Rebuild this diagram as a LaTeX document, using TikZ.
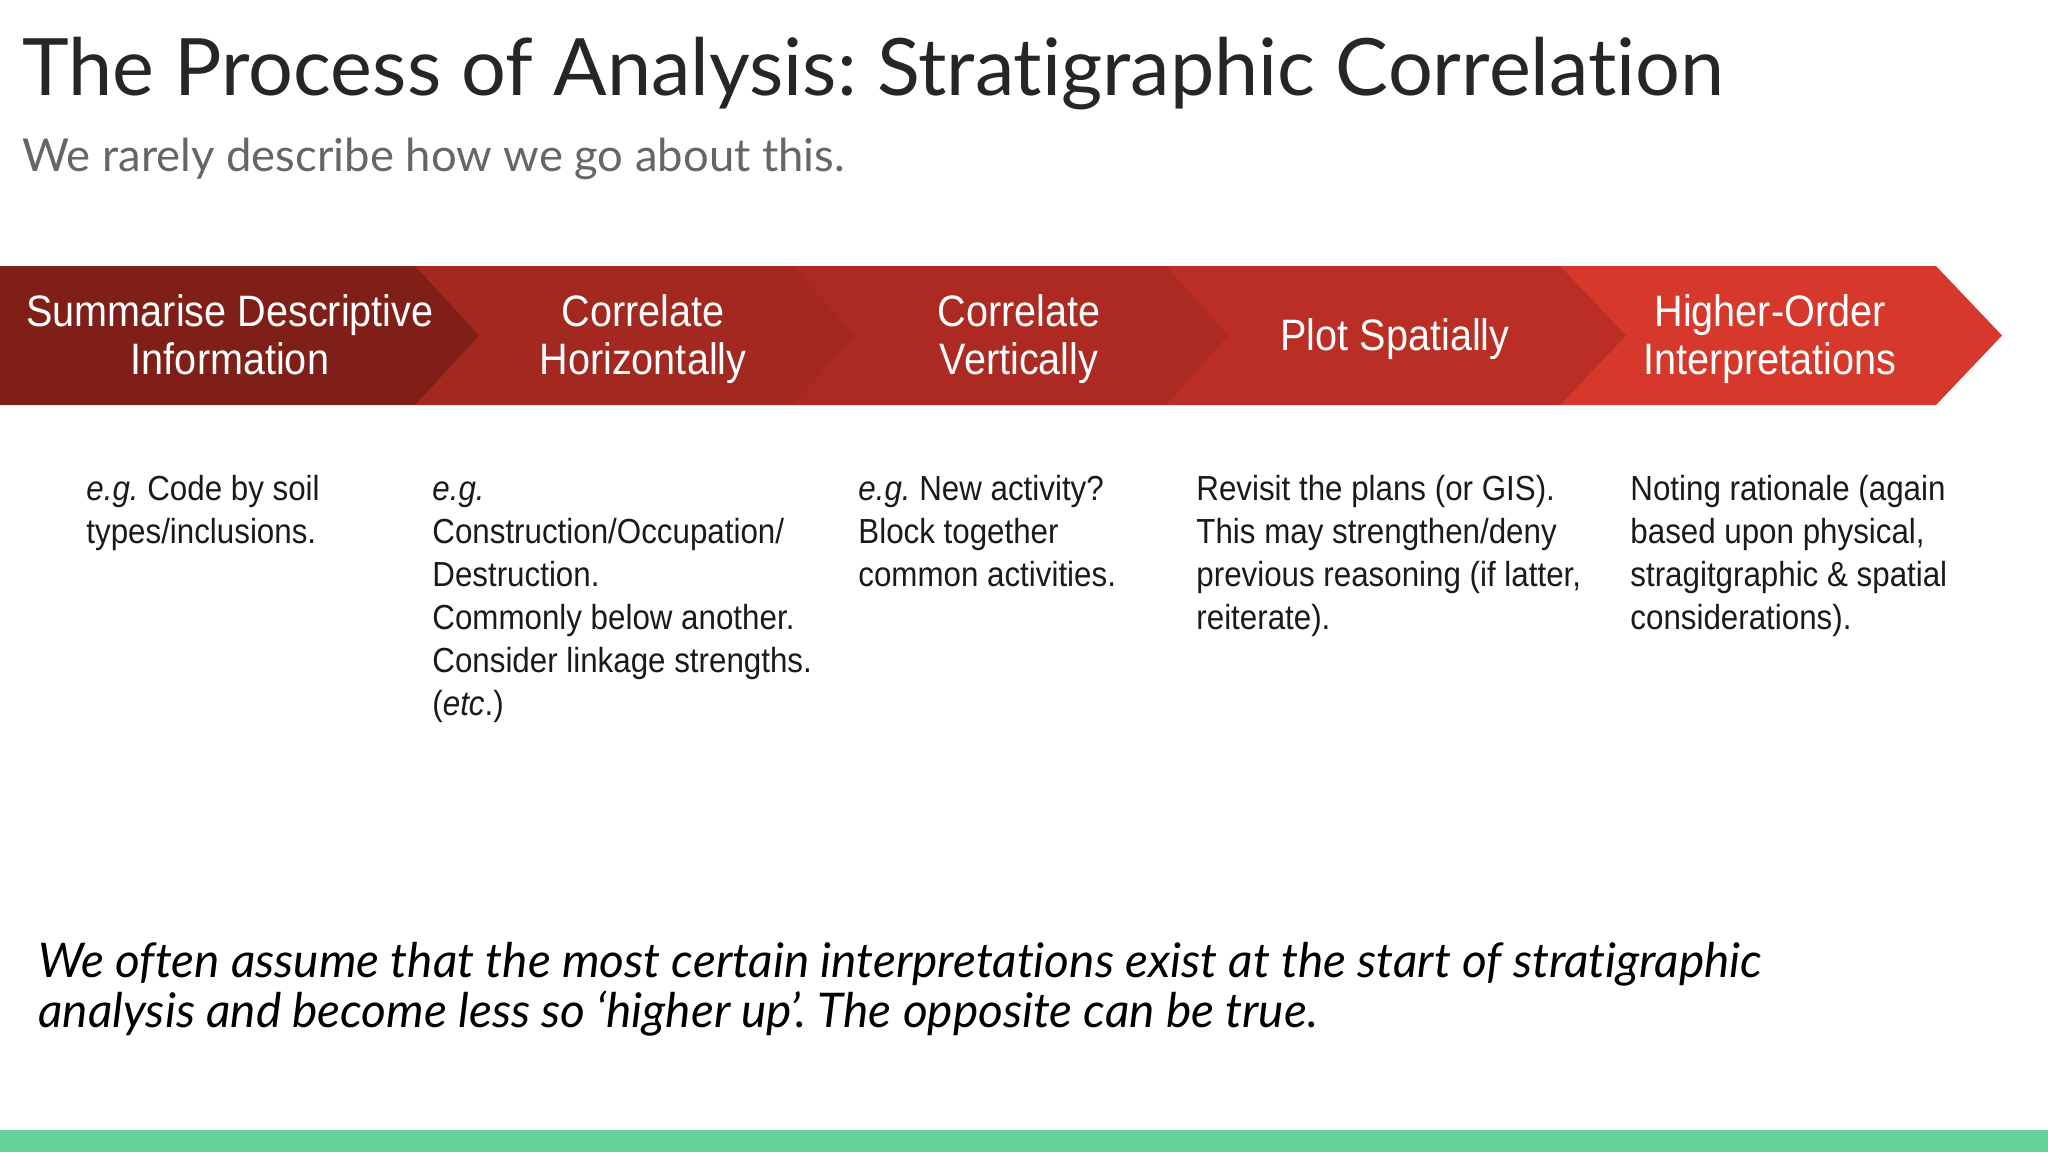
\documentclass[tikz,border=0pt]{standalone}
\usepackage{fontspec}
\setmainfont{Liberation Sans}[FakeStretch=0.9]
\newfontfamily\headfont{Lato}[Ligatures={NoCommon,NoRequired,NoContextual}]
\frenchspacing
\definecolor{cA}{HTML}{7F1F18}
\definecolor{cB}{HTML}{A32820}
\definecolor{cC}{HTML}{AD2A22}
\definecolor{cD}{HTML}{BA2E25}
\definecolor{cE}{HTML}{D6392C}
\definecolor{titlecol}{HTML}{262626}
\definecolor{subcol}{HTML}{666666}
\definecolor{bodycol}{HTML}{1A1A1A}
\definecolor{barcol}{HTML}{66D19A}
\tikzset{
  chevlabel/.style={text=white, align=center, inner sep=0, font=\fontsize{22}{24}\selectfont},
  desc/.style={text=bodycol, align=left, anchor=north west, inner sep=0, font=\fontsize{17.4}{21.5}\selectfont},
  notestyle/.style={anchor=base west, inner sep=0, text=black, font=\headfont\itshape\fontsize{23.9}{28}\selectfont},
}
\begin{document}
\begin{tikzpicture}[x=0.5pt,y=-0.5pt]
\useasboundingbox (0,0) rectangle (2048,1152);
\fill[white] (0,0) rectangle (2048,1152);
% chevrons (drawn back to front)
\fill[cE] (1560,266) -- (1936,266) -- (2002,335.5) -- (1936,405) -- (1560,405) -- cycle;
\fill[cD] (1166,266) -- (1560,266) -- (1626,335.5) -- (1560,405) -- (1166,405) -- cycle;
\fill[cC] (792,266) -- (1166,266) -- (1228,335.5) -- (1166,405) -- (792,405) -- cycle;
\fill[cB] (415,266) -- (792,266) -- (856,335.5) -- (792,405) -- (415,405) -- cycle;
\fill[cA] (0,266) -- (415,266) -- (479,335.5) -- (415,405) -- (0,405) -- cycle;
% chevron labels
\node[chevlabel] (s1) at (230,341) {\strut Summarise Descriptive\\Information\strut};
\node[chevlabel] (s2) at (643,341) {\strut Correlate\\Horizontally\strut};
\node[chevlabel] (s3) at (1019,341) {\strut Correlate\\Vertically\strut};
\node[chevlabel] (s4) at (1395,341) {\strut Plot Spatially};
\node[chevlabel] (s5) at (1770,341) {\strut Higher-Order\\Interpretations\strut};
% title
\node[anchor=base west, inner sep=0, text=titlecol, font=\headfont\fontsize{39.6}{46}\selectfont] (title) at (22,95) {The Process of Analysis: Stratigraphic Correlation};
\node[anchor=base west, inner sep=0, text=subcol, font=\headfont\fontsize{22.7}{26}\selectfont] (subtitle) at (22,171) {We rarely describe how we go about this.};
% descriptions
\node[desc] (d1) at (86,470) {\strut{\itshape e.g.} Code by soil\\types/inclusions.};
\node[desc] (d2) at (432,470) {\strut{\itshape e.g.}\\Construction/Occupation/\\Destruction.\\Commonly below another.\\Consider linkage strengths.\\({\itshape etc}.)};
\node[desc] (d3) at (858,470) {\strut{\itshape e.g.} New activity?\\Block together\\common activities.};
\node[desc] (d4) at (1196,470) {\strut Revisit the plans (or GIS).\\This may strengthen/deny\\previous reasoning (if latter,\\reiterate).};
\node[desc] (d5) at (1630,470) {\strut Noting rationale (again\\based upon physical,\\stragitgraphic \& spatial\\considerations).};
% bottom statement
\node[notestyle] (note1) at (38,977) {We often assume that the most certain interpretations exist at the start of stratigraphic};
\node[notestyle] (note2) at (38,1027) {analysis and become less so ‘higher up’. The opposite can be true.};
% bottom bar
\fill[barcol] (0,1130) rectangle (2048,1152);
\end{tikzpicture}
\end{document}
